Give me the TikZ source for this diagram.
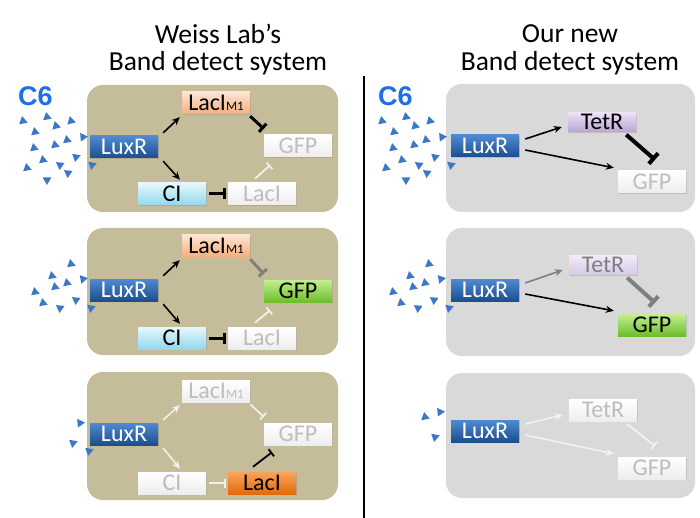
\documentclass[tikz,border=0pt]{standalone}
\usepackage{fontspec}
\setmainfont{Carlito}
\newfontfamily\cfont{Liberation Sans}
\usepackage{tikz}
\usetikzlibrary{shadows}
\usetikzlibrary{positioning}
\usetikzlibrary{arrows.meta,shapes.geometric}

\definecolor{tanpanel}{HTML}{C5BC9A}
\definecolor{greypanel}{HTML}{D9D9D9}
\definecolor{molblue}{HTML}{3B78C6}
\definecolor{c6blue}{HTML}{1E6FE6}
\definecolor{luxtop}{HTML}{4F8AD0}
\definecolor{luxbot}{HTML}{1C4E8E}
\definecolor{lacmtop}{HTML}{FDE4D2}
\definecolor{lacmbot}{HTML}{F5AE7E}
\definecolor{citop}{HTML}{E6F7FC}
\definecolor{cibot}{HTML}{92D8EE}
\definecolor{gfptop}{HTML}{C2EF8F}
\definecolor{gfpbot}{HTML}{6DBE2C}
\definecolor{lacitop}{HTML}{F9A35B}
\definecolor{lacibot}{HTML}{E26B0A}
\definecolor{tettop}{HTML}{ECE2F5}
\definecolor{tetbot}{HTML}{BBA5D6}
\definecolor{offtext}{HTML}{BDBDBD}
\definecolor{offline}{HTML}{F3F0E6}
\definecolor{halfgray}{HTML}{7F7F7F}

\newcommand{\mone}{{\fontsize{13}{13}\selectfont M1}}

\begin{document}
\begin{tikzpicture}
  [x=1pt,y=-1pt,
   title/.style={font=\fontsize{27.5}{30}\selectfont},
   c6lbl/.style={font=\cfont\bfseries\fontsize{27}{27}\selectfont,text=c6blue,inner sep=0pt},
   mol/.style={isosceles triangle,isosceles triangle apex angle=60,fill=molblue,inner sep=0pt,minimum size=7.5pt},
   gene/.style={minimum width=68pt,minimum height=22pt,inner sep=0pt,text height=15pt,text depth=0pt,
     font=\fontsize{24}{24}\selectfont,drop shadow={shadow xshift=1.2pt,shadow yshift=-1.2pt,opacity=0.3}},
   lux/.style={gene,top color=luxtop,bottom color=luxbot,text=white},
   lacm/.style={gene,top color=lacmtop,bottom color=lacmbot},
   ci/.style={gene,top color=citop,bottom color=cibot},
   gfp/.style={gene,top color=gfptop,bottom color=gfpbot},
   laci/.style={gene,top color=lacitop,bottom color=lacibot},
   tet/.style={gene,minimum height=19pt,top color=tettop,bottom color=tetbot},
   tethalf/.style={gene,minimum height=19pt,top color=tettop!70!white,bottom color=tetbot!60!white,text=halfgray},
   off/.style={gene,top color=white,bottom color=black!7,text=offtext},
   act/.style={-{Stealth[length=8pt,width=7pt]},line width=1.6pt},
   rep/.style={-{Bar[width=11pt]},line width=3pt},
   brep/.style={-{Bar[width=14pt]},line width=4pt},
   lrep/.style={-{Bar[width=9pt]},line width=1.8pt}]
  \useasboundingbox (0,0) rectangle (700,518);

  % titles
  \node[title] (ltitle1) at (218,34) {Weiss Lab’s};
  \node[title] (ltitle2) at (218,63) {Band detect system};
  \node[title] (rtitle1) at (570,34) {Our new};
  \node[title] (rtitle2) at (570,63) {Band detect system};
  \draw[line width=2pt] (364,76) -- (364,518);

  % panels
  \fill[tanpanel,rounded corners=16pt] (87,85) rectangle (338,212);
  \fill[tanpanel,rounded corners=16pt] (87,228) rectangle (338,355);
  \fill[tanpanel,rounded corners=16pt] (87,372) rectangle (338,500);
  \fill[greypanel,rounded corners=16pt] (446,84) rectangle (695,212);
  \fill[greypanel,rounded corners=16pt] (446,228) rectangle (695,356);
  \fill[greypanel,rounded corners=16pt] (446,373) rectangle (695,498);

  \node[c6lbl] (lc6) at (35.5,96.5) {C6};
  \node[c6lbl] (rc6) at (395.5,96.5) {C6};

  % C6 molecules, left
  \node[mol,rotate=-20] (la1) at (23,121) {};
  \node[mol,rotate=-20] (la2) at (47,117) {};
  \node[mol,rotate=-15] (la3) at (56,126) {};
  \node[mol,rotate=-15] (la4) at (71,121) {};
  \node[mol,rotate=-20] (la5) at (35,132) {};
  \node[mol,rotate=-115] (la6) at (83,137) {};
  \node[mol,rotate=-20] (la7) at (34,148) {};
  \node[mol,rotate=-20] (la8) at (55,145) {};
  \node[mol,rotate=-20] (la9) at (67,140) {};
  \node[mol,rotate=-100] (la10) at (76,157) {};
  \node[mol,rotate=-20] (la11) at (43,160) {};
  \node[mol,rotate=-20] (la12) at (27,168) {};
  \node[mol,rotate=-95] (la13) at (60,165) {};
  \node[mol,rotate=-95] (la14) at (68,173) {};
  \node[mol,rotate=-100] (la15) at (92,165) {};
  \node[mol,rotate=-90] (la16) at (47,180) {};

  \node[mol,rotate=-20] (lb1) at (71,264) {};
  \node[mol,rotate=-20] (lb2) at (52,276) {};
  \node[mol,rotate=-110] (lb3) at (83,279) {};
  \node[mol,rotate=-20] (lb4) at (67,283) {};
  \node[mol,rotate=-20] (lb5) at (55,287) {};
  \node[mol,rotate=-20] (lb6) at (35,292) {};
  \node[mol,rotate=-95] (lb7) at (76,300) {};
  \node[mol,rotate=-20] (lb8) at (43,303) {};
  \node[mol,rotate=-95] (lb9) at (60,308) {};
  \node[mol,rotate=-100] (lb10) at (91,308) {};

  \node[mol,rotate=-115] (lc1) at (80,423) {};
  \node[mol,rotate=-100] (lc2) at (73,443) {};
  \node[mol,rotate=-100] (lc3) at (89,451) {};

  % C6 molecules, right
  \node[mol,rotate=-20] (ra1) at (382,121) {};
  \node[mol,rotate=-20] (ra2) at (406,117) {};
  \node[mol,rotate=-15] (ra3) at (415,126) {};
  \node[mol,rotate=-15] (ra4) at (430,121) {};
  \node[mol,rotate=-20] (ra5) at (394,132) {};
  \node[mol,rotate=-115] (ra6) at (442,137) {};
  \node[mol,rotate=-20] (ra7) at (393,148) {};
  \node[mol,rotate=-20] (ra8) at (414,145) {};
  \node[mol,rotate=-20] (ra9) at (426,140) {};
  \node[mol,rotate=-100] (ra10) at (435,157) {};
  \node[mol,rotate=-20] (ra11) at (402,160) {};
  \node[mol,rotate=-20] (ra12) at (386,168) {};
  \node[mol,rotate=-95] (ra13) at (419,165) {};
  \node[mol,rotate=-95] (ra14) at (427,173) {};
  \node[mol,rotate=-100] (ra15) at (451,165) {};
  \node[mol,rotate=-90] (ra16) at (406,180) {};

  \node[mol,rotate=-20] (rb1) at (429,264) {};
  \node[mol,rotate=-20] (rb2) at (410,276) {};
  \node[mol,rotate=-110] (rb3) at (441,279) {};
  \node[mol,rotate=-20] (rb4) at (425,283) {};
  \node[mol,rotate=-20] (rb5) at (413,287) {};
  \node[mol,rotate=-20] (rb6) at (393,292) {};
  \node[mol,rotate=-95] (rb7) at (434,300) {};
  \node[mol,rotate=-20] (rb8) at (401,303) {};
  \node[mol,rotate=-95] (rb9) at (418,308) {};
  \node[mol,rotate=-100] (rb10) at (449,308) {};

  \node[mol,rotate=-115] (rc1) at (440,412) {};
  \node[mol,rotate=-20] (rc2) at (425,417) {};
  \node[mol,rotate=-100] (rc3) at (435,437) {};

  % Weiss Lab, high C6
  \node[lux] (L1lux) at (124,147) {LuxR};
  \node[lacm] (L1lacm) at (216,103) {LacI\mone};
  \node[off] (L1gfp) at (298,146) {GFP};
  \node[ci] (L1ci) at (172,194) {CI};
  \node[off] (L1laci) at (262,194) {LacI};
  \draw[act] ([shift={(5,-3)}]L1lux.north east) -- ([shift={(-2,3)}]L1lacm.south west);
  \draw[act] ([shift={(5,3)}]L1lux.south east) -- ([shift={(8,-3)}]L1ci.north);
  \draw[rep] ([shift={(0,2)}]L1lacm.south east) -- ([shift={(0,-6)}]L1gfp.north west);
  \draw[rep] ([shift={(3,0)}]L1ci.east) -- ([shift={(-2,0)}]L1laci.west);
  \draw[lrep,offline] ([shift={(-7,-4)}]L1laci.north) -- ([shift={(-28,8)}]L1gfp.south);

  % Weiss Lab, medium C6
  \node[lux] (L2lux) at (124,290) {LuxR};
  \node[lacm] (L2lacm) at (216,246) {LacI\mone};
  \node[gfp] (L2gfp) at (298,291) {GFP};
  \node[ci] (L2ci) at (172,338) {CI};
  \node[off] (L2laci) at (262,338) {LacI};
  \draw[act] ([shift={(5,-3)}]L2lux.north east) -- ([shift={(-2,3)}]L2lacm.south west);
  \draw[act] ([shift={(5,3)}]L2lux.south east) -- ([shift={(8,-3)}]L2ci.north);
  \draw[rep,halfgray] ([shift={(0,2)}]L2lacm.south east) -- ([shift={(0,-6)}]L2gfp.north west);
  \draw[rep] ([shift={(3,0)}]L2ci.east) -- ([shift={(-2,0)}]L2laci.west);
  \draw[lrep,offline] ([shift={(-7,-4)}]L2laci.north) -- ([shift={(-28,8)}]L2gfp.south);

  % Weiss Lab, low C6
  \node[lux] (L3lux) at (124,434) {LuxR};
  \node[off] (L3lacm) at (216,391) {LacI\mone};
  \node[off] (L3gfp) at (298,434) {GFP};
  \node[off] (L3ci) at (172,483) {CI};
  \node[laci] (L3laci) at (262,483) {LacI};
  \draw[act,offline] ([shift={(5,-3)}]L3lux.north east) -- ([shift={(-2,3)}]L3lacm.south west);
  \draw[act,offline] ([shift={(5,3)}]L3lux.south east) -- ([shift={(8,-3)}]L3ci.north);
  \draw[lrep,offline] ([shift={(0,2)}]L3lacm.south east) -- ([shift={(0,-6)}]L3gfp.north west);
  \draw[lrep,offline] ([shift={(3,0)}]L3ci.east) -- ([shift={(-2,0)}]L3laci.west);
  \draw[lrep] ([shift={(-9,-5)}]L3laci.north) -- ([shift={(-26,7)}]L3gfp.south);

  % our system, high C6
  \node[lux] (R1lux) at (485,146) {LuxR};
  \node[tet] (R1tet) at (602,122) {TetR};
  \node[off] (R1gfp) at (652,182) {GFP};
  \draw[act] ([shift={(6,-7)}]R1lux.east) -- ([shift={(-6,5)}]R1tet.west);
  \draw[act] ([shift={(6,4)}]R1lux.east) -- ([shift={(-4,-3)}]R1gfp.north west);
  \draw[brep] ([shift={(-10,3)}]R1tet.south east) -- ([shift={(3,-11)}]R1gfp.north);

  % our system, medium C6
  \node[lux] (R2lux) at (485,290) {LuxR};
  \node[tethalf] (R2tet) at (603,265) {TetR};
  \node[gfp] (R2gfp) at (652,325) {GFP};
  \draw[act,halfgray] ([shift={(6,-7)}]R2lux.east) -- ([shift={(-6,5)}]R2tet.west);
  \draw[act] ([shift={(6,4)}]R2lux.east) -- ([shift={(-4,-3)}]R2gfp.north west);
  \draw[brep,halfgray] ([shift={(-10,3)}]R2tet.south east) -- ([shift={(3,-11)}]R2gfp.north);

  % our system, low C6
  \node[lux] (R3lux) at (485,431) {LuxR};
  \node[off] (R3tet) at (603,410) {TetR};
  \node[off] (R3gfp) at (652,468) {GFP};
  \draw[act,white!95!black] ([shift={(6,-7)}]R3lux.east) -- ([shift={(-6,5)}]R3tet.west);
  \draw[act,white!95!black] ([shift={(6,4)}]R3lux.east) -- ([shift={(-4,-3)}]R3gfp.north west);
  \draw[lrep,white!95!black] ([shift={(-10,3)}]R3tet.south east) -- ([shift={(3,-11)}]R3gfp.north);
\end{tikzpicture}
\end{document}
